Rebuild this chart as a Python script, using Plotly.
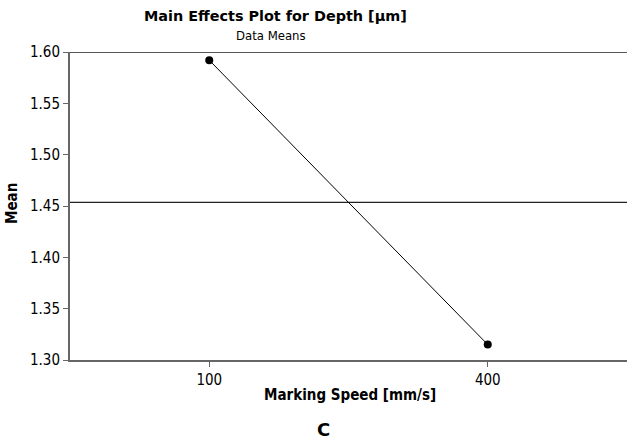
import plotly.graph_objects as go

speeds = ["100", "400"]
means = [1.592, 1.315]
y_ticks = [1.30, 1.35, 1.40, 1.45, 1.50, 1.55, 1.60]
grand_mean = sum(means) / len(means)

# plot area geometry (pixels) used for placing text in paper coords
L, R, T, B = 70, 0, 52, 82
W, H = 627, 442
PW, PH = W - L - R, H - T - B

def py(ypix):
    return (H - B - ypix) / PH

def px(xpix):
    return (xpix - L) / PW

fig = go.Figure()
fig.add_trace(go.Scatter(
    x=speeds, y=means, mode="lines+markers",
    line=dict(color="black", width=1),
    marker=dict(color="black", size=8),
    showlegend=False,
))

fig.add_shape(type="line", xref="paper", yref="y", x0=0, x1=1, y0=grand_mean, y1=grand_mean,
              line=dict(color="#222222", width=1.3), layer="below")
fig.add_shape(type="line", xref="paper", yref="y", x0=0, x1=1, y0=1.60, y1=1.60,
              line=dict(color="#222222", width=1.3), layer="below")

COND = "DejaVu Sans Condensed, DejaVu Sans"

fig.update_layout(
    width=W, height=H,
    margin=dict(l=L, r=R, t=T, b=B),
    paper_bgcolor="white", plot_bgcolor="white",
    font=dict(family=COND, color="black", size=15),
    xaxis=dict(
        type="category", range=[-0.5, 1.5],
        showline=True, linecolor="#666666", linewidth=2,
        ticks="outside", ticklen=5, tickcolor="#666666",
        showgrid=False, zeroline=False,
        tickfont=dict(family=COND, size=15),
    ),
    yaxis=dict(
        range=[1.30, 1.60], tickvals=y_ticks, tickformat=".2f",
        showline=True, linecolor="#666666", linewidth=2,
        ticks="outside", ticklen=5, tickcolor="#666666",
        showgrid=False, zeroline=False,
        tickfont=dict(family=COND, size=15),
    ),
)

def txt(text, x, y, size, angle=0, family=COND):
    fig.add_annotation(text=text, xref="paper", yref="paper", x=x, y=y,
                       xanchor="center", yanchor="middle", showarrow=False,
                       textangle=angle, font=dict(family=family, size=size, color="black"))

txt("<b>Main Effects Plot for Depth [µm]</b>", px(275), py(16), 14.4, family="DejaVu Sans")
txt("Data Means", px(271), py(36), 13)
txt("<b>Marking Speed [mm/s]</b>", px(350), py(395), 15)
txt("<b>Mean</b>", px(12), py(204), 15, angle=-90)
txt("<b>C</b>", px(323), py(429), 18, family="DejaVu Sans")

fig.write_html("out.html")
